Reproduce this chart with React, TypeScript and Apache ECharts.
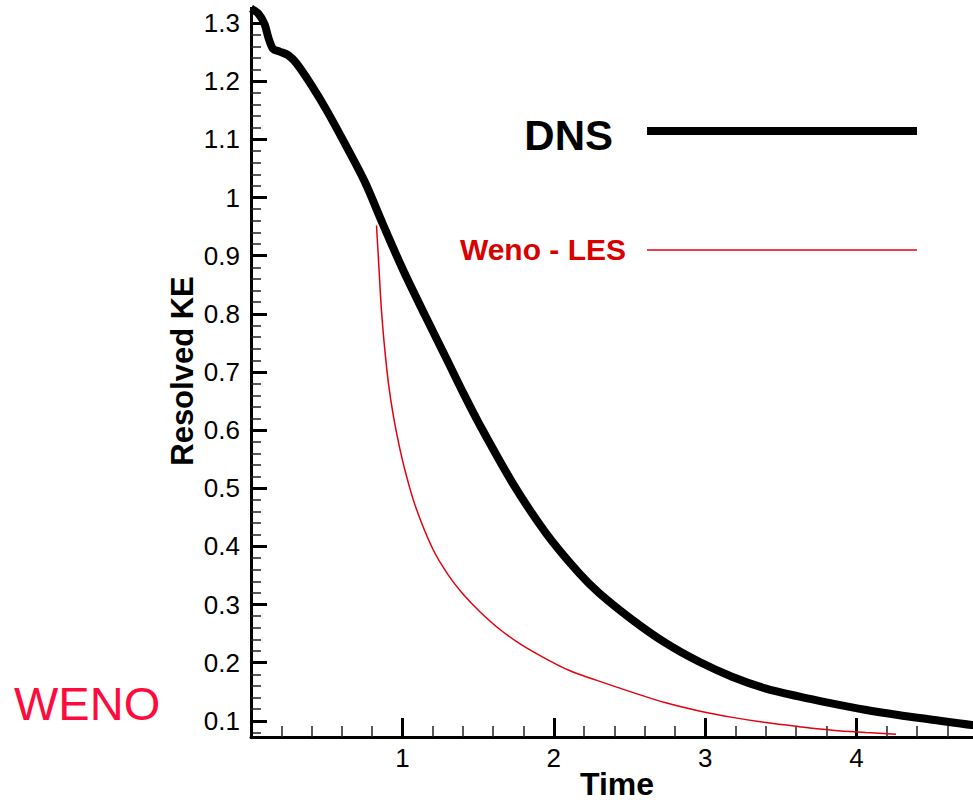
import React, { useEffect, useRef } from "react";
import * as echarts from "echarts";

// DNS resolved kinetic energy vs time
const dnsTime = [0, 0.05, 0.09, 0.115, 0.145, 0.19, 0.245, 0.3, 0.4, 0.5, 0.63, 0.75, 0.87, 1.0, 1.15, 1.3, 1.4, 1.509, 1.728, 1.948, 2.167, 2.299, 2.518, 2.738, 2.957, 3.177, 3.396, 3.616, 3.835, 4.055, 4.274, 4.5, 4.76, 5.0];
const dnsKE = [1.325, 1.316, 1.298, 1.275, 1.256, 1.251, 1.245, 1.231, 1.193, 1.15, 1.088, 1.028, 0.955, 0.878, 0.797, 0.718, 0.665, 0.61, 0.509, 0.423, 0.354, 0.32, 0.274, 0.234, 0.202, 0.176, 0.156, 0.142, 0.13, 0.119, 0.11, 0.102, 0.093, 0.087];

// WENO-LES resolved kinetic energy vs time
const lesTime = [0.829, 0.845, 0.862, 0.885, 0.91, 0.94, 0.975, 1.02, 1.09, 1.2, 1.3, 1.4, 1.51, 1.64, 1.78, 1.94, 2.1, 2.28, 2.52, 2.74, 2.96, 3.18, 3.4, 3.62, 3.84, 4.06, 4.26];
const lesKE = [0.952, 0.88, 0.805, 0.735, 0.676, 0.625, 0.578, 0.528, 0.466, 0.396, 0.352, 0.318, 0.288, 0.258, 0.232, 0.208, 0.187, 0.17, 0.149, 0.131, 0.117, 0.106, 0.097, 0.09, 0.084, 0.08, 0.077];

const xTickLabels = [1, 2, 3, 4];
const yTickLabels = [0.1, 0.2, 0.3, 0.4, 0.5, 0.6, 0.7, 0.8, 0.9, 1, 1.1, 1.2, 1.3];

const seriesNames = ["DNS", "Weno - LES"];
const FONT = "Liberation Sans, Arial, Helvetica, sans-serif";
const RED = "#e4000f";

export default function App() {
  const ref = useRef<HTMLDivElement>(null);
  useEffect(() => {
    if (!ref.current) return;
    const chart = echarts.init(ref.current, undefined, { renderer: "svg" });
    const dns = dnsTime.map((t, i) => [t, dnsKE[i]]);
    const les = lesTime.map((t, i) => [t, lesKE[i]]);
    const TOP = 35; // div offset above page
    chart.setOption({
      animation: false,
      backgroundColor: "#fff",
      grid: { left: 251, top: 0, width: 760, height: 814 },
      xAxis: {
        type: "value",
        min: 0,
        max: 5,
        interval: 1,
        offset: -42,
        axisLine: { lineStyle: { color: "#000", width: 3 } },
        axisTick: { inside: true, length: 19, lineStyle: { color: "#000", width: 3 } },
        minorTick: { show: true, splitNumber: 5, length: 11, lineStyle: { color: "#222", width: 1.5 } },
        splitLine: { show: false },
        axisLabel: {
          fontSize: 26,
          color: "#000",
          fontFamily: FONT,
          margin: 8,
          formatter: (v: number) => (xTickLabels.some((t) => Math.abs(t - v) < 1e-6) ? String(Math.round(v)) : ""),
        },
      },
      yAxis: {
        type: "value",
        min: 0,
        max: 1.4,
        interval: 0.1,
        axisLine: { lineStyle: { color: "#000", width: 3 } },
        axisTick: { inside: true, length: 16, lineStyle: { color: "#000", width: 3 } },
        minorTick: { show: true, splitNumber: 5, length: 10, lineStyle: { color: "#222", width: 1.5 } },
        splitLine: { show: false },
        axisLabel: {
          fontSize: 26,
          color: "#000",
          fontFamily: FONT,
          margin: 11,
          formatter: (v: number) => {
            const r = Math.round(v * 10) / 10;
            return yTickLabels.some((t) => Math.abs(t - r) < 1e-6) ? String(r) : "";
          },
        },
      },
      series: [
        {
          name: seriesNames[0],
          type: "line",
          data: dns,
          showSymbol: false,
          smooth: 0.3,
          z: 3,
          lineStyle: { color: "#000", width: 8 },
        },
        {
          name: seriesNames[1],
          type: "line",
          data: les,
          showSymbol: false,
          smooth: 0.4,
          z: 3,
          lineStyle: { color: RED, width: 1.5 },
        },
      ],
      graphic: [
        // hide axis stubs outside the visible frame
        { type: "rect", z: 1, shape: { x: 238, y: 0, width: 34, height: TOP + 7 }, style: { fill: "#fff" } },
        { type: "rect", z: 1, shape: { x: 238, y: 739 + TOP, width: 34, height: 80 }, style: { fill: "#fff" } },
        // legend
        { type: "text", z: 5, x: 613, y: 135 + TOP, style: { text: seriesNames[0], fontSize: 42, fontWeight: "bold", fontFamily: FONT, fill: "#000", align: "right", verticalAlign: "middle" } },
        { type: "line", z: 5, shape: { x1: 647, y1: 131 + TOP, x2: 917, y2: 131 + TOP }, style: { stroke: "#000", lineWidth: 8 } },
        { type: "text", z: 5, x: 626, y: 249 + TOP, style: { text: seriesNames[1], fontSize: 30, fontWeight: "bold", fontFamily: FONT, fill: "#d80000", align: "right", verticalAlign: "middle" } },
        { type: "line", z: 5, shape: { x1: 647, y1: 250 + TOP, x2: 917, y2: 250 + TOP }, style: { stroke: RED, lineWidth: 1.5 } },
        // axis titles
        { type: "text", z: 5, x: 182, y: 371 + TOP, rotation: Math.PI / 2, style: { text: "Resolved KE", fontSize: 31, fontWeight: "bold", fontFamily: FONT, fill: "#000", align: "center", verticalAlign: "middle" } },
        { type: "text", z: 5, x: 617, y: 784 + TOP, style: { text: "Time", fontSize: 32, fontWeight: "bold", fontFamily: FONT, fill: "#000", align: "center", verticalAlign: "middle" } },
        // annotation
        { type: "text", z: 5, x: 14, y: 703 + TOP, style: { text: "WENO", fontSize: 47, fontFamily: FONT, fill: "#ff0a3c", align: "left", verticalAlign: "middle" } },
      ],
    });
    return () => chart.dispose();
  }, []);
  return (
    <div style={{ position: "fixed", left: 0, top: 0, width: 973, height: 802, overflow: "hidden", background: "#fff" }}>
      <div ref={ref} style={{ position: "absolute", left: 0, top: -35, width: 1011, height: 850 }} />
    </div>
  );
}
